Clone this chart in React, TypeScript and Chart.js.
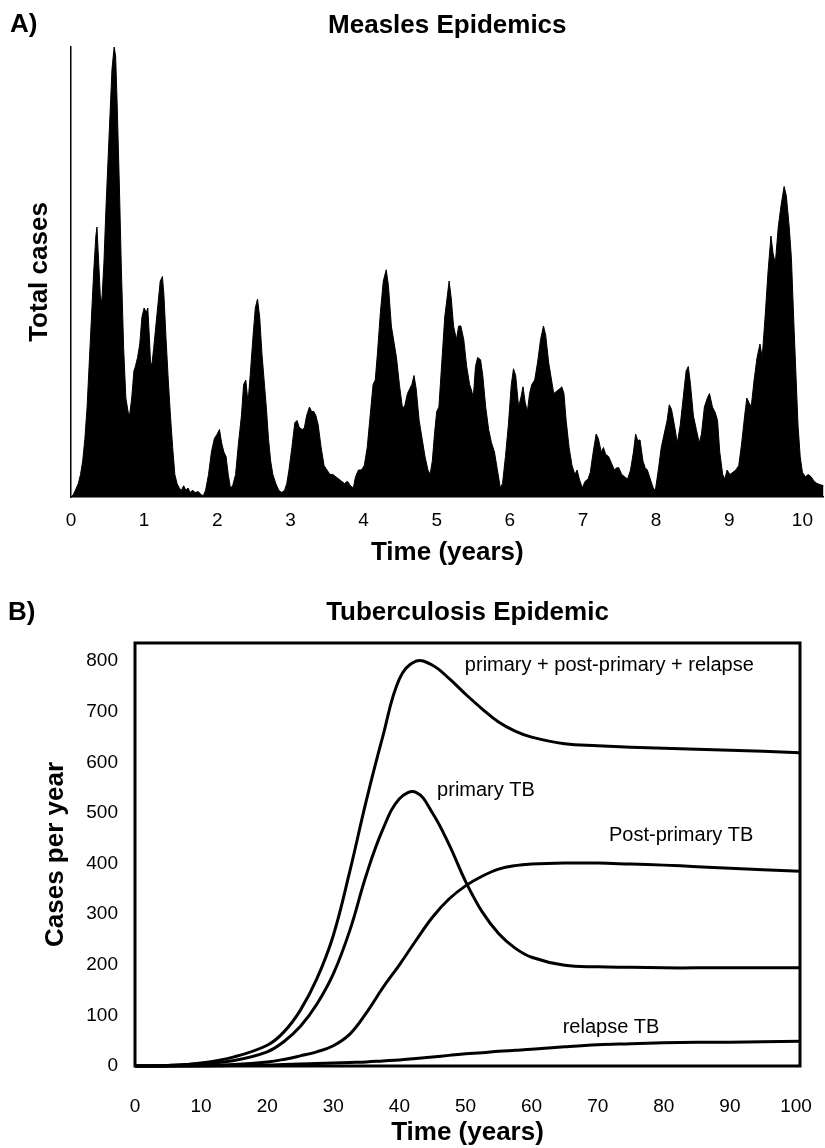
import React, { useEffect, useRef } from 'react';
import { Chart, registerables } from 'chart.js';

Chart.register(...registerables);

const FONT = '"Liberation Sans", Arial, Helvetica, sans-serif';

// ---------- Panel A: Measles epidemics (relative scale, peak = 100) ----------
const measlesYears = [
  0.00, 0.03, 0.06, 0.10, 0.13, 0.16, 0.19, 0.22, 0.25, 0.28, 0.31, 0.34, 0.355, 0.37, 0.40, 0.42, 0.45, 0.48,
  0.52, 0.56, 0.59, 0.61, 0.63, 0.66, 0.69, 0.72, 0.75, 0.78, 0.80, 0.83, 0.86, 0.88, 0.91, 0.94, 0.97, 1.00,
  1.03, 1.05, 1.07, 1.09, 1.11, 1.13, 1.16, 1.19, 1.22, 1.25, 1.27, 1.30, 1.33, 1.36, 1.39, 1.42, 1.45, 1.48,
  1.51, 1.54, 1.57, 1.60, 1.63, 1.66, 1.70, 1.74, 1.78, 1.81, 1.84, 1.88, 1.92, 1.96, 2.00, 2.03, 2.06, 2.09,
  2.12, 2.15, 2.18, 2.21, 2.25, 2.29, 2.33, 2.36, 2.39, 2.42, 2.45, 2.49, 2.52, 2.55, 2.58, 2.61, 2.64, 2.67,
  2.70, 2.73, 2.76, 2.80, 2.84, 2.88, 2.92, 2.95, 2.98, 3.02, 3.06, 3.09, 3.12, 3.16, 3.19, 3.22, 3.26, 3.29,
  3.32, 3.35, 3.38, 3.42, 3.46, 3.50, 3.54, 3.58, 3.62, 3.66, 3.70, 3.74, 3.78, 3.82, 3.86, 3.89, 3.93, 3.97,
  4.01, 4.05, 4.09, 4.13, 4.16, 4.19, 4.23, 4.27, 4.31, 4.34, 4.38, 4.42, 4.45, 4.49, 4.53, 4.56, 4.60, 4.63,
  4.66, 4.69, 4.72, 4.76, 4.80, 4.84, 4.88, 4.91, 4.94, 4.97, 5.00, 5.03, 5.07, 5.11, 5.17, 5.20, 5.23, 5.27,
  5.30, 5.33, 5.37, 5.41, 5.45, 5.48, 5.50, 5.53, 5.56, 5.60, 5.63, 5.67, 5.71, 5.75, 5.79, 5.83, 5.87, 5.90,
  5.94, 5.98, 6.02, 6.05, 6.08, 6.12, 6.15, 6.18, 6.21, 6.24, 6.27, 6.30, 6.34, 6.38, 6.42, 6.46, 6.49, 6.53,
  6.57, 6.60, 6.64, 6.68, 6.71, 6.74, 6.77, 6.81, 6.85, 6.89, 6.92, 6.95, 6.99, 7.03, 7.07, 7.10, 7.14, 7.18,
  7.21, 7.25, 7.28, 7.31, 7.35, 7.39, 7.43, 7.46, 7.49, 7.53, 7.57, 7.61, 7.65, 7.69, 7.72, 7.75, 7.78, 7.82,
  7.85, 7.88, 7.92, 7.96, 7.99, 8.03, 8.07, 8.11, 8.15, 8.18, 8.21, 8.25, 8.29, 8.33, 8.37, 8.41, 8.44, 8.47,
  8.51, 8.55, 8.59, 8.62, 8.66, 8.70, 8.73, 8.77, 8.81, 8.84, 8.87, 8.91, 8.94, 8.97, 9.01, 9.05, 9.09, 9.13,
  9.17, 9.21, 9.24, 9.27, 9.30, 9.34, 9.38, 9.42, 9.45, 9.49, 9.53, 9.57, 9.60, 9.63, 9.67, 9.71, 9.75, 9.78,
  9.82, 9.85, 9.88, 9.91, 9.94, 9.97, 10.00, 10.04, 10.08, 10.12, 10.16, 10.20, 10.25, 10.29,
];

const measlesCases = [
  0, 0.5, 1.5, 3, 5, 8, 13, 20, 30, 40, 50, 58, 60, 55, 45, 43, 52, 65,
  80, 95, 100, 98, 88, 70, 50, 33, 22, 19, 18, 22, 28, 29, 31, 34, 40, 42,
  41, 42, 36, 29, 30, 33, 38, 43, 48, 49, 45, 35, 26, 18, 11, 5, 3, 2,
  1.5, 2.5, 1.5, 2, 1, 1.5, 1, 1.2, 0.5, 0.3, 1.5, 5, 10, 13, 14, 15, 12, 10,
  9, 5, 2, 2.5, 5, 12, 18, 25, 26, 21, 27, 36, 42, 44, 40, 32, 26, 20,
  13, 8, 5, 3, 1.5, 1, 1.5, 3, 6, 11, 16.5, 17, 15.5, 15, 15.3, 18, 20, 19,
  19, 18, 16, 11, 7, 6, 5, 5, 4.5, 4, 3.5, 3, 3.5, 2.5, 2, 4.5, 6, 6,
  7, 11, 18, 25, 26, 32, 41, 48, 50.5, 47, 38, 34, 31, 25, 20, 20, 23, 24,
  25, 27, 24, 17, 13, 9, 6, 5, 8, 14, 19, 20, 30, 40, 48, 44, 38, 35,
  38, 38, 35, 29, 25, 23.5, 22, 29, 31, 30.5, 27, 20, 15, 12, 10, 6, 2, 3,
  9, 16, 25, 28.5, 27, 20, 22, 24.5, 21, 19, 23, 25, 26, 30, 35, 38, 36, 30,
  26, 23, 23.5, 24, 24.5, 23, 17, 11, 7, 5, 6, 4, 2, 3.5, 4, 5.5, 10, 14,
  13, 10, 11, 9.5, 9, 7.5, 6, 6.5, 6.5, 5, 4.5, 4, 6, 10, 14, 12.5, 12.7, 8,
  6.5, 6, 4, 2, 1.5, 6, 11, 14, 17, 20.5, 19.5, 16, 12, 16, 22, 28, 29, 25,
  18, 15, 12, 14, 20, 22, 23, 20, 18.7, 17, 10, 5, 4, 6, 5, 5.5, 6, 7,
  12, 18, 22, 21, 20, 26, 31, 34, 31, 40, 50, 58, 54, 52, 60, 65, 69, 67,
  60, 53, 40, 28, 16, 9, 5.5, 4.5, 5, 4.5, 3.5, 3, 2.7, 2.5,
];

const measlesXTicks = [0, 1, 2, 3, 4, 5, 6, 7, 8, 9, 10];

// ---------- Panel B: Tuberculosis epidemic (cases per year) ----------
const tbYears = [0, 5, 10, 15, 20, 22.5, 25, 27.5, 30, 32.5, 35, 37.5, 40, 42.5, 45, 47.5, 50, 52.5, 55, 57.5, 60, 65, 70, 75, 80, 85, 90, 95, 100.6];
const tbTotal = [0, 1, 6, 18, 41, 67, 110, 172, 258, 385, 525, 652, 765, 800, 792, 766, 735, 706, 680, 662, 650, 637, 633, 630, 628, 626, 624, 622, 619];
const tbPrimary = [0, 1, 5, 11, 28, 48, 78, 122, 182, 268, 378, 468, 528, 541, 500, 438, 365, 305, 262, 233, 215, 199, 196, 195, 194, 194, 194, 194, 194];
const tbPostPrimary = [0, 0, 1, 3, 8, 13, 20, 28, 40, 63, 105, 155, 200, 248, 294, 330, 356, 375, 389, 396, 399, 401, 401, 399, 397, 394, 391, 388, 385];
const tbRelapse = [0, 0, 0, 1, 2, 3, 4, 5, 6, 7, 8, 10, 12, 15, 18, 21, 24, 26, 29, 31, 33, 38, 42, 44, 46, 47, 47, 48, 49];

const tbXTicks = [0, 10, 20, 30, 40, 50, 60, 70, 80, 90, 100];
const tbYTicks = [0, 100, 200, 300, 400, 500, 600, 700, 800];

const curveLabelTexts = ['primary + post-primary + relapse', 'primary TB', 'Post-primary TB', 'relapse TB'];
const curveLabelYears = [49.9, 45.7, 71.7, 64.7];
const curveLabelValues = [792, 545, 455, 77];

// ---------- plugins ----------
const panelLabelPlugin = {
  id: 'panelLabel',
  afterDraw(chart: any, _args: any, opts: any) {
    if (!opts || !opts.text) return;
    const ctx = chart.ctx;
    ctx.save();
    ctx.font = `bold 26px ${FONT}`;
    ctx.fillStyle = '#000';
    ctx.textAlign = 'left';
    ctx.textBaseline = 'middle';
    ctx.fillText(opts.text, opts.x, opts.y);
    ctx.restore();
  },
};

const frameBoxPlugin = {
  id: 'frameBox',
  afterDatasetsDraw(chart: any) {
    const { left, top, right, bottom } = chart.chartArea;
    const ctx = chart.ctx;
    ctx.save();
    ctx.lineWidth = 3;
    ctx.strokeStyle = '#000';
    ctx.strokeRect(left, top, right - left, bottom - top);
    ctx.restore();
  },
};

const curveLabelsPlugin = {
  id: 'curveLabels',
  afterDatasetsDraw(chart: any) {
    const ctx = chart.ctx;
    const xs = chart.scales.x;
    const ys = chart.scales.y;
    ctx.save();
    ctx.font = `20px ${FONT}`;
    ctx.fillStyle = '#000';
    ctx.textAlign = 'left';
    ctx.textBaseline = 'middle';
    curveLabelTexts.forEach((t, i) => {
      ctx.fillText(t, xs.getPixelForValue(curveLabelYears[i]), ys.getPixelForValue(curveLabelValues[i]));
    });
    ctx.restore();
  },
};

const toXY = (xs: number[], ys: number[]) => xs.map((x, i) => ({ x, y: ys[i] }));

export default function App() {
  const refA = useRef<HTMLCanvasElement>(null);
  const refB = useRef<HTMLCanvasElement>(null);

  useEffect(() => {
    Chart.defaults.font.family = FONT;
    Chart.defaults.color = '#000';

    const chartA = new Chart(refA.current as HTMLCanvasElement, {
      type: 'line',
      data: {
        datasets: [
          {
            label: 'Total cases',
            data: toXY(measlesYears, measlesCases),
            borderColor: '#000',
            backgroundColor: '#000',
            borderWidth: 1,
            fill: 'origin',
            pointRadius: 0,
            tension: 0,
          },
        ],
      },
      options: {
        animation: false,
        responsive: false,
        devicePixelRatio: 1,
        layout: { padding: 0 },
        plugins: {
          legend: { display: false },
          tooltip: { enabled: false },
          title: {
            display: true,
            text: 'Measles Epidemics',
            fullSize: false,
            font: { size: 26, weight: 'bold', family: FONT },
            color: '#000',
            padding: { top: 10.4, bottom: 5.4 },
          },
          panelLabel: { text: 'A)', x: 10, y: 25 },
        } as any,
        scales: {
          x: {
            type: 'linear',
            min: 0,
            max: 10.29,
            afterBuildTicks: (s: any) => {
              s.ticks = measlesXTicks.map((v) => ({ value: v }));
            },
            afterFit: (s: any) => {
              s.height = 83;
            },
            grid: { display: false, drawTicks: false },
            border: { display: true, color: '#000', width: 1.5 },
            ticks: { font: { size: 19 }, color: '#000', padding: 12, maxRotation: 0 },
            title: {
              display: true,
              text: 'Time (years)',
              color: '#000',
              font: { size: 26, weight: 'bold' },
              padding: { top: 0, bottom: 11.4 },
            },
          },
          y: {
            type: 'linear',
            min: 0,
            max: 100,
            afterFit: (s: any) => {
              s.width = 71;
            },
            grid: { display: false, drawTicks: false },
            border: { display: true, color: '#000', width: 1.5 },
            ticks: { display: false },
            title: {
              display: true,
              text: 'Total cases',
              color: '#000',
              font: { size: 26, weight: 'bold' },
              padding: { top: 24.4, bottom: 0 },
            },
          },
        },
      } as any,
      plugins: [panelLabelPlugin],
    });

    const lineDs = (label: string, values: number[]) => ({
      label,
      data: toXY(tbYears, values),
      borderColor: '#000',
      backgroundColor: '#000',
      borderWidth: 3,
      fill: false,
      pointRadius: 0,
      tension: 0.4,
      clip: false as any,
    });

    const chartB = new Chart(refB.current as HTMLCanvasElement, {
      type: 'line',
      data: {
        datasets: [
          lineDs('primary + post-primary + relapse', tbTotal),
          lineDs('primary TB', tbPrimary),
          lineDs('Post-primary TB', tbPostPrimary),
          lineDs('relapse TB', tbRelapse),
        ],
      },
      options: {
        animation: false,
        responsive: false,
        devicePixelRatio: 1,
        layout: { padding: { left: 0, right: 25, top: 0, bottom: 0 } },
        plugins: {
          legend: { display: false },
          tooltip: { enabled: false },
          title: {
            display: true,
            text: 'Tuberculosis Epidemic',
            fullSize: false,
            font: { size: 26, weight: 'bold', family: FONT },
            color: '#000',
            padding: { top: 17.4, bottom: 14.4 },
          },
          panelLabel: { text: 'B)', x: 8, y: 33 },
        } as any,
        scales: {
          x: {
            type: 'linear',
            min: 0,
            max: 100.6,
            afterBuildTicks: (s: any) => {
              s.ticks = tbXTicks.map((v) => ({ value: v }));
            },
            afterFit: (s: any) => {
              s.height = 82;
            },
            grid: { display: false, drawTicks: true, tickLength: 27.6, tickColor: 'rgba(0,0,0,0)' },
            border: { display: false },
            ticks: { font: { size: 19 }, color: '#000', padding: 2, maxRotation: 0 },
            title: {
              display: true,
              text: 'Time (years)',
              color: '#000',
              font: { size: 26, weight: 'bold' },
              padding: { top: 0, bottom: 0 },
            },
          },
          y: {
            type: 'linear',
            min: 0,
            max: 836,
            afterBuildTicks: (s: any) => {
              s.ticks = tbYTicks.map((v) => ({ value: v }));
            },
            afterFit: (s: any) => {
              s.width = 135;
            },
            grid: { display: false, drawTicks: false },
            border: { display: false },
            ticks: { font: { size: 19 }, color: '#000', padding: 17 },
            title: {
              display: true,
              text: 'Cases per year',
              color: '#000',
              font: { size: 26, weight: 'bold' },
              padding: { top: 40.4, bottom: 0 },
            },
          },
        },
      } as any,
      plugins: [panelLabelPlugin, frameBoxPlugin, curveLabelsPlugin],
    });

    return () => {
      chartA.destroy();
      chartB.destroy();
    };
  }, []);

  return (
    <div style={{ position: 'absolute', left: 0, top: 0, width: 825, height: 1148, background: '#fff' }}>
      <canvas ref={refA} width={825} height={580} style={{ position: 'absolute', left: 0, top: 0, display: 'block' }} />
      <canvas ref={refB} width={825} height={568} style={{ position: 'absolute', left: 0, top: 580, display: 'block' }} />
    </div>
  );
}
